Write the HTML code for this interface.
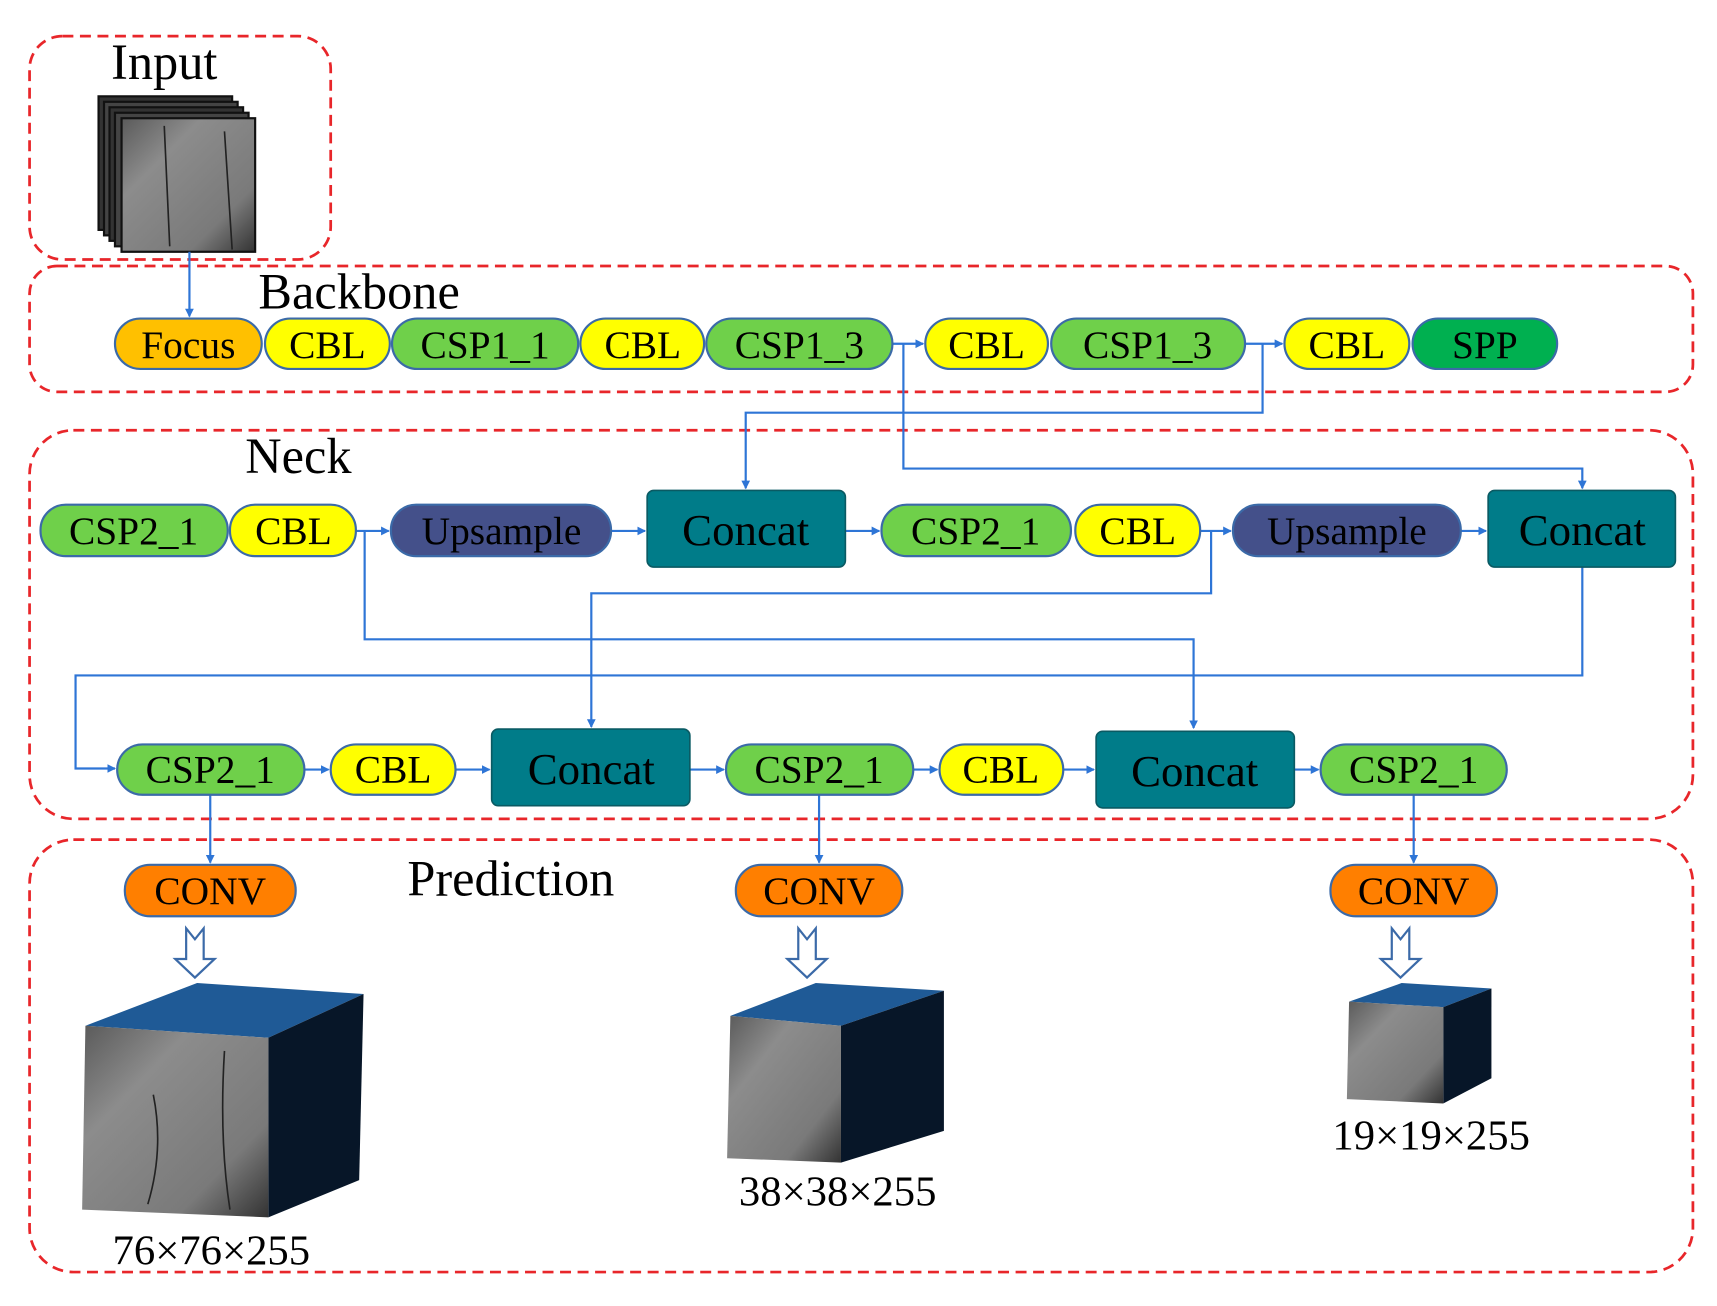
<!DOCTYPE html>
<html><head><meta charset="utf-8"><style>html,body{margin:0;padding:0;background:#fff}svg{display:block}</style></head>
<body>
<svg width="1717" height="1306" viewBox="0 0 1568 1193" preserveAspectRatio="none" xmlns="http://www.w3.org/2000/svg" font-family="'Liberation Serif', serif">
<defs>
<marker id="a" markerWidth="8" markerHeight="8" refX="7" refY="4" orient="auto" markerUnits="userSpaceOnUse"><path d="M0,0 L8,4 L0,8 z" fill="#2E75D6"/></marker>
<linearGradient id="g" x1="0" y1="0" x2="1" y2="1"><stop offset="0" stop-color="#5a5a5a"/><stop offset="0.3" stop-color="#8c8c8c"/><stop offset="0.75" stop-color="#7a7a7a"/><stop offset="1" stop-color="#333"/></linearGradient>
</defs>
<g fill="none" stroke="#E8262A" stroke-width="2.5" stroke-dasharray="10,6">
<rect x="27" y="33" width="275" height="204" rx="30"/>
<rect x="27" y="243" width="1519" height="115" rx="25"/>
<rect x="27" y="393" width="1519" height="355" rx="40"/>
<rect x="27" y="767" width="1519" height="395" rx="40"/>
</g>
<g font-size="46" fill="#000">
<text x="150" y="72" text-anchor="middle">Input</text>
<text x="236" y="282">Backbone</text>
<text x="224" y="432">Neck</text>
<text x="372" y="818">Prediction</text>
</g>
<g stroke="#111" stroke-width="2">
<rect x="90" y="88" width="122" height="122" fill="#333"/>
<rect x="95" y="93" width="122" height="122" fill="#444"/>
<rect x="100" y="98" width="122" height="122" fill="#333"/>
<rect x="105" y="103" width="122" height="122" fill="#444"/>
<rect x="111" y="108" width="122" height="122" fill="url(#g)"/>
</g>
<path d="M150,115 L155,225 M205,120 L212,228" stroke="#222" stroke-width="1.5" fill="none"/>
<g stroke="#2E75D6" stroke-width="2" fill="none">
<path d="M173,230 V289" marker-end="url(#a)"/>
<path d="M815,314 H843" marker-end="url(#a)"/>
<path d="M1137,314 H1171" marker-end="url(#a)"/>
<path d="M825,314 V428 H1445 V446" marker-end="url(#a)"/>
<path d="M1153,314 V377 H681 V446" marker-end="url(#a)"/>
<path d="M325,485 H355" marker-end="url(#a)"/>
<path d="M558,485 H589" marker-end="url(#a)"/>
<path d="M772,485 H803" marker-end="url(#a)"/>
<path d="M1096,485 H1124" marker-end="url(#a)"/>
<path d="M1334,485 H1357" marker-end="url(#a)"/>
<path d="M333,485 V584 H1090 V665" marker-end="url(#a)"/>
<path d="M1106,485 V542 H540 V664" marker-end="url(#a)"/>
<path d="M1445,518 V617 H69 V702 H105" marker-end="url(#a)"/>
<path d="M278,703 H300" marker-end="url(#a)"/>
<path d="M416,703 H447" marker-end="url(#a)"/>
<path d="M630,703 H661" marker-end="url(#a)"/>
<path d="M834,703 H856" marker-end="url(#a)"/>
<path d="M971,703 H999" marker-end="url(#a)"/>
<path d="M1182,703 H1204" marker-end="url(#a)"/>
<path d="M192,726 V788" marker-end="url(#a)"/>
<path d="M748,726 V788" marker-end="url(#a)"/>
<path d="M1291,726 V788" marker-end="url(#a)"/>
</g>
<g stroke="#3B6AA8" stroke-width="2" font-size="36" text-anchor="middle">
<rect x="105" y="291" width="134" height="46" rx="23" fill="#FFC000"/><text x="172" y="327" stroke="none">Focus</text>
<rect x="242" y="291" width="114" height="46" rx="23" fill="#FFFF00"/><text x="299" y="327" stroke="none">CBL</text>
<rect x="358" y="291" width="170" height="46" rx="23" fill="#6FD04A"/><text x="443" y="327" stroke="none">CSP1_1</text>
<rect x="530" y="291" width="113" height="46" rx="23" fill="#FFFF00"/><text x="587" y="327" stroke="none">CBL</text>
<rect x="645" y="291" width="170" height="46" rx="23" fill="#6FD04A"/><text x="730" y="327" stroke="none">CSP1_3</text>
<rect x="845" y="291" width="112" height="46" rx="23" fill="#FFFF00"/><text x="901" y="327" stroke="none">CBL</text>
<rect x="960" y="291" width="177" height="46" rx="23" fill="#6FD04A"/><text x="1048" y="327" stroke="none">CSP1_3</text>
<rect x="1173" y="291" width="114" height="46" rx="23" fill="#FFFF00"/><text x="1230" y="327" stroke="none">CBL</text>
<rect x="1290" y="291" width="132" height="46" rx="23" fill="#00B050"/><text x="1356" y="327" stroke="none">SPP</text>

<rect x="37" y="461" width="171" height="47" rx="23" fill="#6FD04A"/><text x="122" y="497" stroke="none">CSP2_1</text>
<rect x="210" y="461" width="115" height="47" rx="23" fill="#FFFF00"/><text x="268" y="497" stroke="none">CBL</text>
<rect x="357" y="461" width="201" height="47" rx="23" fill="#44508A"/><text x="458" y="497" stroke="none">Upsample</text>
<rect x="805" y="461" width="173" height="47" rx="23" fill="#6FD04A"/><text x="891" y="497" stroke="none">CSP2_1</text>
<rect x="982" y="461" width="114" height="47" rx="23" fill="#FFFF00"/><text x="1039" y="497" stroke="none">CBL</text>
<rect x="1126" y="461" width="208" height="47" rx="23" fill="#44508A"/><text x="1230" y="497" stroke="none">Upsample</text>

<rect x="107" y="680" width="171" height="46" rx="23" fill="#6FD04A"/><text x="192" y="715" stroke="none">CSP2_1</text>
<rect x="302" y="680" width="114" height="46" rx="23" fill="#FFFF00"/><text x="359" y="715" stroke="none">CBL</text>
<rect x="663" y="680" width="171" height="46" rx="23" fill="#6FD04A"/><text x="748" y="715" stroke="none">CSP2_1</text>
<rect x="858" y="680" width="113" height="46" rx="23" fill="#FFFF00"/><text x="914" y="715" stroke="none">CBL</text>
<rect x="1206" y="680" width="170" height="46" rx="23" fill="#6FD04A"/><text x="1291" y="715" stroke="none">CSP2_1</text>

<rect x="114" y="790" width="156" height="47" rx="23" fill="#FF7F00"/><text x="192" y="826" stroke="none">CONV</text>
<rect x="672" y="790" width="152" height="47" rx="23" fill="#FF7F00"/><text x="748" y="826" stroke="none">CONV</text>
<rect x="1215" y="790" width="152" height="47" rx="23" fill="#FF7F00"/><text x="1291" y="826" stroke="none">CONV</text>
</g>
<g fill="#007C89" stroke="#0a5a63" stroke-width="1.5">
<rect x="591" y="448" width="181" height="70" rx="6"/>
<rect x="1359" y="448" width="171" height="70" rx="6"/>
<rect x="449" y="666" width="181" height="70" rx="6"/>
<rect x="1001" y="668" width="181" height="70" rx="6"/>
</g>
<g font-size="41" text-anchor="middle">
<text x="681" y="498">Concat</text>
<text x="1445" y="498">Concat</text>
<text x="540" y="716">Concat</text>
<text x="1091" y="718">Concat</text>
</g>
<g fill="#fff" stroke="#3B6AA8" stroke-width="2">
<path d="M170,848 L178,858 L186,848 V876 H196 L178,893 L160,876 H170 Z"/>
<path d="M729,848 L737,858 L745,848 V876 H755 L737,893 L719,876 H729 Z"/>
<path d="M1271,848 L1279,858 L1287,848 V876 H1297 L1279,893 L1261,876 H1271 Z"/>
</g>
<polygon points="78,937 180,898 332,908 245,948" fill="#1F5A96"/>
<polygon points="245,948 332,908 328,1078 245,1112" fill="#071628"/>
<polygon points="78,937 245,948 245,1112 75,1105" fill="url(#g)"/>
<path d="M140,1000 Q150,1050 135,1100 M205,960 Q200,1040 210,1105" stroke="#222" stroke-width="1.5" fill="none"/>
<polygon points="667,928 745,898 862,905 768,937" fill="#1F5A96"/>
<polygon points="768,937 862,905 862,1033 768,1062" fill="#071628"/>
<polygon points="667,928 768,937 768,1062 664,1058" fill="url(#g)"/>
<polygon points="1232,915 1280,898 1362,903 1318,920" fill="#1F5A96"/>
<polygon points="1318,920 1362,903 1362,985 1318,1008" fill="#071628"/>
<polygon points="1232,915 1318,920 1318,1008 1230,1004" fill="url(#g)"/>
<g font-size="39" text-anchor="middle">
<text x="193" y="1155">76×76×255</text>
<text x="765" y="1101">38×38×255</text>
<text x="1307" y="1050">19×19×255</text>
</g>
</svg>
</body></html>
